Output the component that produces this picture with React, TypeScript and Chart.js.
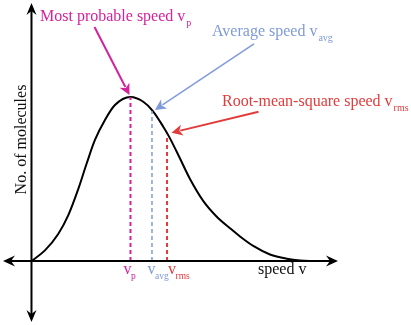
import React, { useEffect, useRef } from "react";
import { Chart, registerables } from "chart.js";

Chart.register(...registerables);

// Distribution curve (speed in units of v_p, height relative to peak)
const speeds = [0, 0.136, 0.27, 0.372, 0.473, 0.558, 0.641, 0.742, 0.843, 1.0, 1.129, 1.224, 1.331, 1.399, 1.5, 1.601, 1.736, 1.871, 2.005, 2.106, 2.24, 2.409, 2.578, 2.712, 2.86];
const molecules = [0, 0.065, 0.165, 0.28, 0.44, 0.596, 0.738, 0.86, 0.951, 1.0, 0.971, 0.916, 0.819, 0.748, 0.625, 0.5, 0.365, 0.27, 0.2, 0.15, 0.092, 0.04, 0.014, 0.003, 0];

// Characteristic speeds
const markerSubs = ["p", "avg", "rms"];
const markerSpeeds = [1.0, 1.217, 1.369];
const markerHeights = [1.0, 0.915, 0.77];
const annotationTitles = ["Most probable speed", "Average speed", "Root-mean-square speed"];
const xAxisTitle = "speed v";
const yAxisTitle = "No. of molecules";

const markerColors = ["#d4219e", "#7f9ad8", "#e23b3b"];
const FONT = "'Liberation Serif', 'Times New Roman', serif";

function drawHead(ctx: CanvasRenderingContext2D, tx: number, ty: number, fx: number, fy: number, len: number, half: number, notch: number, color: string) {
  const ang = Math.atan2(ty - fy, tx - fx);
  const c = Math.cos(ang), s = Math.sin(ang);
  const bx = tx - c * len, by = ty - s * len;
  const nx = tx - c * (len - notch), ny = ty - s * (len - notch);
  ctx.save();
  ctx.fillStyle = color;
  ctx.beginPath();
  ctx.moveTo(tx, ty);
  ctx.lineTo(bx - s * half, by + c * half);
  ctx.lineTo(nx, ny);
  ctx.lineTo(bx + s * half, by - c * half);
  ctx.closePath();
  ctx.fill();
  ctx.restore();
}

function drawArrow(ctx: CanvasRenderingContext2D, fx: number, fy: number, tx: number, ty: number, color: string, width: number, len: number, half: number) {
  const ang = Math.atan2(ty - fy, tx - fx);
  ctx.save();
  ctx.strokeStyle = color;
  ctx.lineWidth = width;
  ctx.beginPath();
  ctx.moveTo(fx, fy);
  ctx.lineTo(tx - Math.cos(ang) * (len - 2), ty - Math.sin(ang) * (len - 2));
  ctx.stroke();
  ctx.restore();
  drawHead(ctx, tx, ty, fx, fy, len, half, 3, color);
}

function drawSub(ctx: CanvasRenderingContext2D, main: string, sub: string, x: number, y: number, color: string, size: number, subSize: number, subDrop: number, gap: number) {
  ctx.save();
  ctx.fillStyle = color;
  ctx.textAlign = "left";
  ctx.textBaseline = "alphabetic";
  ctx.font = `${size}px ${FONT}`;
  ctx.fillText(main, x, y);
  const w = ctx.measureText(main).width;
  ctx.font = `${subSize}px ${FONT}`;
  ctx.fillText(sub, x + w + gap, y + subDrop);
  ctx.restore();
}

const overlay = {
  id: "overlay",
  afterDatasetsDraw(chart: any) {
    const ctx: CanvasRenderingContext2D = chart.ctx;
    const xs = chart.scales.x;
    const ys = chart.scales.y;
    const x0 = xs.getPixelForValue(0);
    const y0 = ys.getPixelForValue(0);

    // axes
    ctx.save();
    ctx.strokeStyle = "#000";
    ctx.lineWidth = 2;
    ctx.beginPath();
    ctx.moveTo(x0, 8);
    ctx.lineTo(x0, 317);
    ctx.moveTo(8, y0);
    ctx.lineTo(333, y0);
    ctx.stroke();
    ctx.restore();
    drawHead(ctx, x0, 3, x0, 100, 12, 5, 4, "#000");
    drawHead(ctx, x0, 322, x0, 200, 12, 5, 4, "#000");
    drawHead(ctx, 3, y0, 100, y0, 12, 5.5, 4, "#000");
    drawHead(ctx, 338, y0, 200, y0, 12, 5.5, 4, "#000");

    // annotation arrows
    const tails = [[-35, -68], [99, -66], [87, -21]];
    const tipShift = [[-1, -2], [3, -1], [4.5, -2]];
    const widths = [2, 1.5, 2];
    markerSpeeds.forEach((v, i) => {
      const tx = xs.getPixelForValue(v) + tipShift[i][0];
      const ty = ys.getPixelForValue(markerHeights[i]) + tipShift[i][1];
      drawArrow(ctx, tx + tails[i][0], ty + tails[i][1], tx, ty, markerColors[i], widths[i], 11, 5.5);
    });

    // annotation titles
    const titlePos = [[40, 21], [212, 36], [222, 106]];
    annotationTitles.forEach((t, i) => {
      drawSub(ctx, t + " v", markerSubs[i], titlePos[i][0], titlePos[i][1], markerColors[i], 16, 10, 5, 1);
    });

    // tick labels under the axis
    const tickDx = [-7, -4.5, 1];
    markerSpeeds.forEach((v, i) => {
      drawSub(ctx, "v", markerSubs[i], xs.getPixelForValue(v) + tickDx[i], 274, markerColors[i], 16, 9.5, 4.5, -0.5);
    });

    // axis titles
    ctx.save();
    ctx.fillStyle = "#111";
    ctx.font = `16px ${FONT}`;
    ctx.textBaseline = "alphabetic";
    ctx.textAlign = "left";
    ctx.fillText(xAxisTitle, 258, 273.5);
    ctx.translate(26, 139.5);
    ctx.rotate(-Math.PI / 2);
    ctx.textAlign = "center";
    ctx.fillText(yAxisTitle, 0, 0);
    ctx.restore();
  },
};

export default function App() {
  const ref = useRef<HTMLCanvasElement | null>(null);
  useEffect(() => {
    document.body.style.margin = "0";
    document.body.style.overflow = "hidden";
    const canvas = ref.current;
    if (!canvas) return;
    const curve = speeds.map((v, i) => ({ x: v, y: molecules[i] }));
    const dashed = markerSpeeds.map((v, i) => ({
      data: [{ x: v, y: 0 }, { x: v, y: markerHeights[i] }],
      borderColor: markerColors[i],
      borderWidth: i === 1 ? 1.5 : 2,
      borderDash: [4, 3],
      pointRadius: 0,
      showLine: true,
      fill: false,
    }));
    const chart = new Chart(canvas, {
      type: "scatter",
      data: {
        datasets: [
          ...dashed,
          {
            data: curve,
            borderColor: "#000",
            borderWidth: 2,
            pointRadius: 0,
            showLine: true,
            fill: false,
            cubicInterpolationMode: "monotone",
          } as any,
        ],
      },
      options: {
        animation: false,
        responsive: false,
        devicePixelRatio: 1,
        layout: { padding: 0 },
        plugins: { legend: { display: false }, tooltip: { enabled: false } },
        scales: {
          x: { type: "linear", min: -0.318, max: 3.833, display: false },
          y: { type: "linear", min: -0.39, max: 1.5915, display: false },
        },
      },
      plugins: [overlay],
    });
    return () => chart.destroy();
  }, []);
  return (
    <div style={{ width: 411, height: 325, background: "#fff" }}>
      <canvas ref={ref} width={411} height={325} style={{ display: "block" }} />
    </div>
  );
}
